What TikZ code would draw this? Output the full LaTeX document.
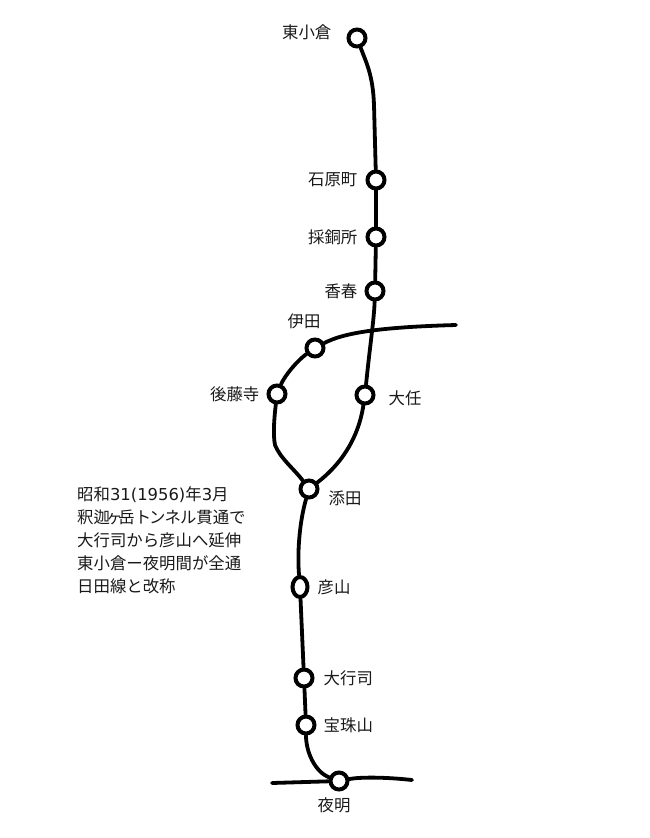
\documentclass[tikz,border=0pt]{standalone}
\usepackage{fontspec}
\setmainfont{Noto Sans CJK JP}
\newfontfamily\digitfont{DejaVu Sans}
\usetikzlibrary{positioning, shapes.geometric}

\begin{document}
\begin{tikzpicture}[
                x=1pt, y=-1pt,
                station/.style={circle, draw, line width=4pt, fill=white, minimum size=17pt, inner sep=0pt}, % Circle for stations
                stlabel/.style={font=\fontsize{16.4pt}{18pt}\selectfont, inner sep=0pt, text=black!90}, % Station names
                track/.style={draw, line width=3.8pt, line cap=round} % Styling for lines
                ]
                \useasboundingbox (0,0) rectangle (650,838);

                % stations
                \node[station] (higashikokura) at (357,38) {};
                \node[station] (ishiharamachi) at (376,180) {};
                \node[station] (saidosho) at (376,237) {};
                \node[station] (kawara) at (375,291) {};
                \node[station] (ita) at (315,348) {};
                \node[station] (gotoji) at (277,394) {};
                \node[station] (oto) at (365,395) {};
                \node[station] (soeda) at (309,489) {};
                \node[station, ellipse, minimum height=20pt, minimum width=15pt] (hikosan) at (300,587) {};
                \node[station] (daigyoji) at (304,678) {};
                \node[station] (hojuyama) at (306,725) {};
                \node[station] (yoake) at (339,781) {};

                % free ends of the crossing lines
                \coordinate (itaeast) at (456,325);
                \coordinate (yoakewest) at (272,783);
                \coordinate (yoakeeast) at (412,780);

                % names
                \node[stlabel, left=15pt of higashikokura, yshift=6pt] (lhigashikokura) {東小倉};
                \node[stlabel, left=8pt of ishiharamachi] (lishiharamachi) {石原町};
                \node[stlabel, left=8pt of saidosho] (lsaidosho) {採銅所};
                \node[stlabel, left=7pt of kawara] (lkawara) {香春};
                \node[stlabel, above=8pt of ita, xshift=-11pt] (lita) {伊田};
                \node[stlabel, left=7pt of gotoji] (lgotoji) {後藤寺};
                \node[stlabel, right=13pt of oto, yshift=-3pt] (loto) {大任};
                \node[stlabel, right=9pt of soeda, yshift=-9pt] (lsoeda) {添田};
                \node[stlabel, right=8pt of hikosan] (lhikosan) {彦山};
                \node[stlabel, right=9pt of daigyoji] (ldaigyoji) {大行司};
                \node[stlabel, right=7pt of hojuyama] (lhojuyama) {宝珠山};
                \node[stlabel, below=6pt of yoake, xshift=-5pt] (lyoake) {夜明};

                % lines
                \path[track] (higashikokura) .. controls (366,62) and (373,75) .. (374,105) -- (ishiharamachi);
                \path[track] (ishiharamachi) -- (saidosho);
                \path[track] (saidosho) -- (kawara);
                \path[track] (kawara) .. controls (374,320) and (370,345) .. (oto);
                \path[track] (ita) .. controls (345,332) and (385,327) .. (itaeast);
                \path[track] (ita) .. controls (298,360) and (285,375) .. (gotoji);
                \path[track] (gotoji) .. controls (274,420) and (273,435) .. (275,445) .. controls (280,458) and (295,470) .. (soeda);
                \path[track] (oto) .. controls (358,440) and (340,465) .. (soeda);
                \path[track] (soeda) .. controls (300,520) and (297,550) .. (hikosan);
                \path[track] (hikosan) -- (daigyoji);
                \path[track] (daigyoji) -- (hojuyama);
                \path[track] (hojuyama) .. controls (306,752) and (315,772) .. (yoake);
                \path[track] (yoakewest) -- (yoake);
                \path[track] (yoake) .. controls (360,777) and (385,777) .. (yoakeeast);

                % note
                \node[stlabel, align=left, anchor=north west, font=\fontsize{16.4pt}{23.1pt}\selectfont] (note) at (77,486)
                    {昭和{\digitfont 31(1956)}年{\digitfont 3}月\\釈迦\hspace{-4pt}ヶ\hspace{-4pt}岳ト\hspace{-2pt}ン\hspace{-1pt}ネ\hspace{-1pt}ル貫通で\\大行司から彦山へ延伸\\東小倉ー夜明間が全通\\日田線と改称};
            \end{tikzpicture}
\end{document}
